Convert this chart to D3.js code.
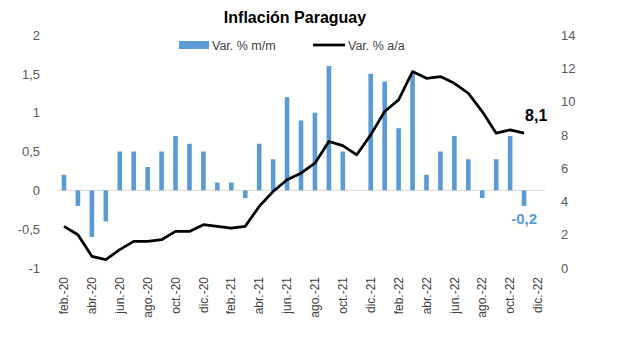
<!DOCTYPE html>
<html>
<head>
<meta charset="utf-8">
<script src="https://cdn.jsdelivr.net/npm/d3@7"></script>
<style>
  body { margin: 0; background: #fff; }
  svg text { font-family: "Liberation Sans", Arial, sans-serif; }
</style>
</head>
<body>
<div id="chart"></div>
<script>
// Months feb.-20 .. dic.-22
const months = ["feb.-20","mar.-20","abr.-20","may.-20","jun.-20","jul.-20","ago.-20","sep.-20","oct.-20","nov.-20","dic.-20",
  "ene.-21","feb.-21","mar.-21","abr.-21","may.-21","jun.-21","jul.-21","ago.-21","sep.-21","oct.-21","nov.-21","dic.-21",
  "ene.-22","feb.-22","mar.-22","abr.-22","may.-22","jun.-22","jul.-22","ago.-22","sep.-22","oct.-22","nov.-22","dic.-22"];

// Var. % m/m (left axis)
const monthly = [0.2,-0.2,-0.6,-0.4,0.5,0.5,0.3,0.5,0.7,0.6,0.5,
  0.1,0.1,-0.1,0.6,0.4,1.2,0.9,1.0,1.6,0.5,0.0,1.5,
  1.4,0.8,1.5,0.2,0.5,0.7,0.4,-0.1,0.4,0.7,-0.2,null];

// Var. % a/a (right axis)
const yearly = [2.5,2.0,0.7,0.5,1.1,1.6,1.6,1.7,2.2,2.2,2.6,
  2.5,2.4,2.5,3.7,4.6,5.3,5.7,6.3,7.6,7.35,6.8,8.0,
  9.4,10.1,11.8,11.4,11.5,11.1,10.5,9.4,8.1,8.3,8.1,null];

const leftTicks = [-1,-0.5,0,0.5,1,1.5,2];
const rightTicks = [0,2,4,6,8,10,12,14];

const width = 617, height = 347;
const margin = {top: 35, bottom: 79, left: 57, right: 72};

const svg = d3.select("#chart").append("svg")
  .attr("width", width)
  .attr("height", height);

// comma decimals, plain hyphen for negatives
const locale = d3.formatLocale({decimal: ",", thousands: ".", grouping: [3], currency: ["", ""], minus: "-"});
const fmt = v => locale.format("~g")(v);

const x = d3.scaleBand()
  .domain(months)
  .range([margin.left, width - margin.right])
  .padding(0);
const barW = x.bandwidth() * 0.33;

const yL = d3.scaleLinear().domain([-1, 2]).range([height - margin.bottom, margin.top]);
const yR = d3.scaleLinear().domain([0, 14]).range([height - margin.bottom, margin.top]);

// zero line
svg.append("line")
  .attr("x1", margin.left).attr("x2", width - margin.right)
  .attr("y1", yL(0)).attr("y2", yL(0))
  .attr("stroke", "#d9d9d9").attr("stroke-width", 1);

// left axis
const gL = svg.append("g")
  .attr("transform", `translate(${margin.left - 14},0)`)
  .call(d3.axisLeft(yL).tickValues(leftTicks).tickSize(0).tickFormat(fmt));
gL.select(".domain").remove();
gL.selectAll("text").attr("font-size", 13).attr("fill", "#595959");

// right axis
const gR = svg.append("g")
  .attr("transform", `translate(${width - margin.right + 13},0)`)
  .call(d3.axisRight(yR).tickValues(rightTicks).tickSize(0));
gR.select(".domain").remove();
gR.selectAll("text").attr("font-size", 13).attr("fill", "#595959");

// x axis, every other month
const gX = svg.append("g")
  .attr("transform", `translate(0,${height - margin.bottom + 9})`)
  .call(d3.axisBottom(x).tickValues(months.filter((d, i) => i % 2 === 0)).tickSize(0));
gX.select(".domain").remove();
gX.selectAll("text")
  .attr("font-size", 12)
  .attr("fill", "#404040")
  .attr("transform", "rotate(-90)")
  .attr("text-anchor", "end")
  .attr("dx", 0)
  .attr("dy", "0.35em")
  .attr("y", 0)
  .attr("x", 0);

// bars
const barData = months.map((m, i) => ({m, v: monthly[i]})).filter(d => d.v !== null);
svg.selectAll("rect.bar")
  .data(barData)
  .enter().append("rect")
  .attr("class", "bar")
  .attr("x", d => x(d.m) + x.bandwidth() / 2 - barW / 2)
  .attr("width", barW)
  .attr("y", d => yL(Math.max(0, d.v)))
  .attr("height", d => Math.abs(yL(d.v) - yL(0)))
  .attr("fill", "#5b9bd5");

// line
const lineData = months.map((m, i) => ({m, v: yearly[i]})).filter(d => d.v !== null);
svg.append("path")
  .datum(lineData)
  .attr("fill", "none")
  .attr("stroke", "#000")
  .attr("stroke-width", 2.75)
  .attr("stroke-linejoin", "round")
  .attr("d", d3.line().x(d => x(d.m) + x.bandwidth() / 2).y(d => yR(d.v)));

// last-value labels
const lastLine = lineData[lineData.length - 1];
svg.append("text")
  .attr("x", x(lastLine.m) + x.bandwidth() / 2 + 1)
  .attr("y", yR(lastLine.v) - 12)
  .attr("font-size", 16).attr("font-weight", "bold").attr("fill", "#000")
  .text(fmt(lastLine.v));

const lastBar = barData[barData.length - 1];
svg.append("text")
  .attr("x", x(lastBar.m) + x.bandwidth() / 2)
  .attr("y", yL(lastBar.v) + 18)
  .attr("text-anchor", "middle")
  .attr("font-size", 15).attr("font-weight", "bold").attr("fill", "#5b9bd5")
  .text(fmt(lastBar.v));

// title
svg.append("text")
  .attr("x", 295).attr("y", 23)
  .attr("text-anchor", "middle")
  .attr("font-size", 16).attr("font-weight", "bold").attr("fill", "#000")
  .text("Inflación Paraguay");

// legend
const leg = svg.append("g").attr("transform", "translate(179,45)");
leg.append("rect").attr("x", 0).attr("y", -4).attr("width", 30).attr("height", 8).attr("fill", "#5b9bd5");
leg.append("text").attr("x", 33).attr("y", 4.5).attr("font-size", 12.5).attr("fill", "#404040").text("Var. % m/m");
leg.append("line").attr("x1", 134).attr("x2", 166).attr("y1", 0).attr("y2", 0).attr("stroke", "#000").attr("stroke-width", 2.75);
leg.append("text").attr("x", 169).attr("y", 4.5).attr("font-size", 12.5).attr("fill", "#404040").text("Var. % a/a");
</script>
</body>
</html>
